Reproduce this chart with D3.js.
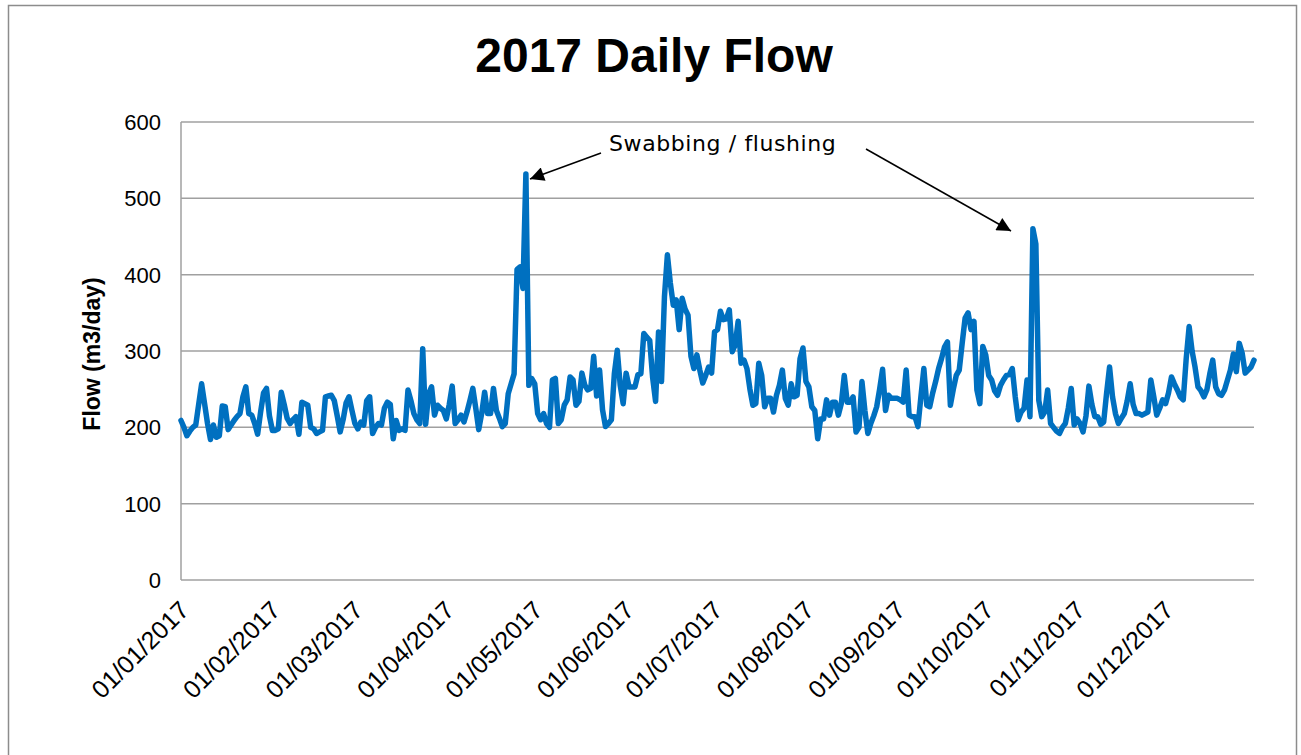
<!DOCTYPE html>
<html>
<head>
<meta charset="utf-8">
<script src="https://cdn.jsdelivr.net/npm/d3@7"></script>
<style>
html, body { margin: 0; padding: 0; background: #fff; overflow: hidden; }
text { font-family: "Liberation Sans", Arial, sans-serif; fill: #000; }
.grid line { stroke: #a0a0a0; stroke-width: 1.5; }
</style>
</head>
<body>
<script>

// daily flow, m3/day, one value per day from 1 Jan 2017
var jan = [209,200,189,195,200,203,230,257,231,205,184,203,187,189,228,227,197,203,209,214,218,240,253,218,216,205,191,220,245,251,215];
var feb = [196,196,198,246,230,212,205,210,214,191,233,231,229,200,198,192,194,196,240,241,242,235,215,194,210,232,240,222];
var mar = [205,198,207,203,235,240,192,200,205,203,225,233,230,185,209,196,198,196,249,235,218,210,205,303,204,244,253,216,229,225,222];
var apr = [211,230,254,205,210,216,207,220,235,251,225,197,218,246,218,218,251,222,212,201,205,244,257,270,407,410,382,532,255,264];
var may = [257,218,210,218,205,200,262,264,205,210,229,236,266,262,229,234,271,255,249,251,293,241,275,223,201,205,210,270,301,255,231];
var jun = [271,253,253,253,269,270,323,318,314,265,234,325,260,371,426,389,360,367,328,369,355,347,293,277,295,275,258,268,279,271];
var jul = [325,328,352,341,342,354,299,308,339,284,288,277,250,229,231,284,268,227,238,238,220,242,255,275,238,229,257,240,242,290,304];
var aug = [260,253,227,222,185,211,211,236,216,233,233,216,231,268,233,233,240,194,200,260,222,192,205,215,227,250,276,222,242,238,238];
var sep = [238,236,233,275,216,214,214,201,240,277,229,227,245,260,277,290,305,312,229,250,268,275,310,343,350,328,339,249,231,306];
var oct = [295,268,262,248,242,255,262,268,269,277,240,210,220,225,262,214,460,440,235,214,220,249,205,200,195,192,200,205,225,251,203];
var nov = [211,205,194,215,254,230,214,214,204,207,245,279,240,218,205,212,218,235,257,230,218,218,216,218,220,262,240,216,225,236];
var dec = [231,245,266,257,249,240,236,290,332,300,279,253,248,240,249,270,288,253,244,242,249,262,275,296,273,310,297,271,275,279,288];

var yTicks = [0, 100, 200, 300, 400, 500, 600];
var title = "2017 Daily Flow";
var yTitle = "Flow (m3/day)";
var note = "Swabbing / flushing";

var flows = [].concat(jan, feb, mar, apr, may, jun, jul, aug, sep, oct, nov, dec);
var start = new Date(2017, 0, 1);
var data = flows.map(function(v, i) { return { date: d3.timeDay.offset(start, i), flow: v }; });

var W = 1301, H = 755;
var svg = d3.select("body").append("svg").attr("width", W).attr("height", H);

// chart border
svg.append("rect")
  .attr("x", 8.5).attr("y", 5.5).attr("width", 1288).attr("height", 770)
  .attr("fill", "none").attr("stroke", "#8c8c8c").attr("stroke-width", 1.5);

var x = d3.scaleTime()
  .domain([start, new Date(2017, 11, 31)])
  .range([181, 1254]);
var y = d3.scaleLinear().domain([0, 600]).range([580, 122]);

// gridlines
svg.append("g").attr("class", "grid")
  .selectAll("line").data(yTicks).enter().append("line")
  .attr("x1", 181).attr("x2", 1254)
  .attr("y1", function(d) { return y(d); })
  .attr("y2", function(d) { return y(d); });

svg.append("line")
  .attr("x1", 181).attr("x2", 181).attr("y1", 122).attr("y2", 580)
  .attr("stroke", "#a0a0a0").attr("stroke-width", 1.5);

// y labels
svg.append("g").selectAll("text").data(yTicks).enter().append("text")
  .attr("x", 161).attr("y", function(d) { return y(d); })
  .attr("dy", "0.36em").attr("text-anchor", "end")
  .style("font-size", "22px")
  .text(function(d) { return d; });

// x labels, one per month
var months = d3.timeMonth.range(start, new Date(2018, 0, 1));
var fmt = d3.timeFormat("%d/%m/%Y");
svg.append("g").selectAll("text").data(months).enter().append("text")
  .attr("transform", function(d) { return "translate(" + (x(d) - 3) + ",599) rotate(-45)"; })
  .attr("dy", "0.71em").attr("text-anchor", "end")
  .style("font-size", "25px")
  .text(fmt);

// titles
svg.append("text")
  .attr("x", 654).attr("y", 72).attr("text-anchor", "middle")
  .style("font-size", "48px").style("font-weight", "bold")
  .text(title);

svg.append("text")
  .attr("transform", "translate(100,354) rotate(-90)")
  .attr("text-anchor", "middle")
  .style("font-size", "23px").style("font-weight", "bold")
  .text(yTitle);

// flow line
var line = d3.line()
  .x(function(d) { return x(d.date); })
  .y(function(d) { return y(d.flow); });

svg.append("path").datum(data)
  .attr("d", line)
  .attr("fill", "none")
  .attr("stroke", "#0070c0")
  .attr("stroke-width", 5.5)
  .attr("stroke-linejoin", "round")
  .attr("stroke-linecap", "round");

// annotation
svg.append("defs").append("marker")
  .attr("id", "head").attr("viewBox", "0 0 10 10")
  .attr("refX", 10).attr("refY", 5)
  .attr("markerWidth", 16).attr("markerHeight", 14)
  .attr("markerUnits", "userSpaceOnUse").attr("orient", "auto")
  .append("path").attr("d", "M0,0 L10,5 L0,10 Z").attr("fill", "#000");

svg.append("text")
  .attr("x", 609).attr("y", 151)
  .style("font-family", "'DejaVu Sans', Verdana, sans-serif")
  .style("font-size", "22px")
  .style("letter-spacing", "0.6px")
  .text(note);

var arrows = [
  { x1: 601, y1: 153, x2: 530, y2: 179 },
  { x1: 866, y1: 149, x2: 1011, y2: 231 }
];
svg.append("g").selectAll("line").data(arrows).enter().append("line")
  .attr("x1", function(d) { return d.x1; }).attr("y1", function(d) { return d.y1; })
  .attr("x2", function(d) { return d.x2; }).attr("y2", function(d) { return d.y2; })
  .attr("stroke", "#000").attr("stroke-width", 1.5)
  .attr("marker-end", "url(#head)");

</script>
</body>
</html>
